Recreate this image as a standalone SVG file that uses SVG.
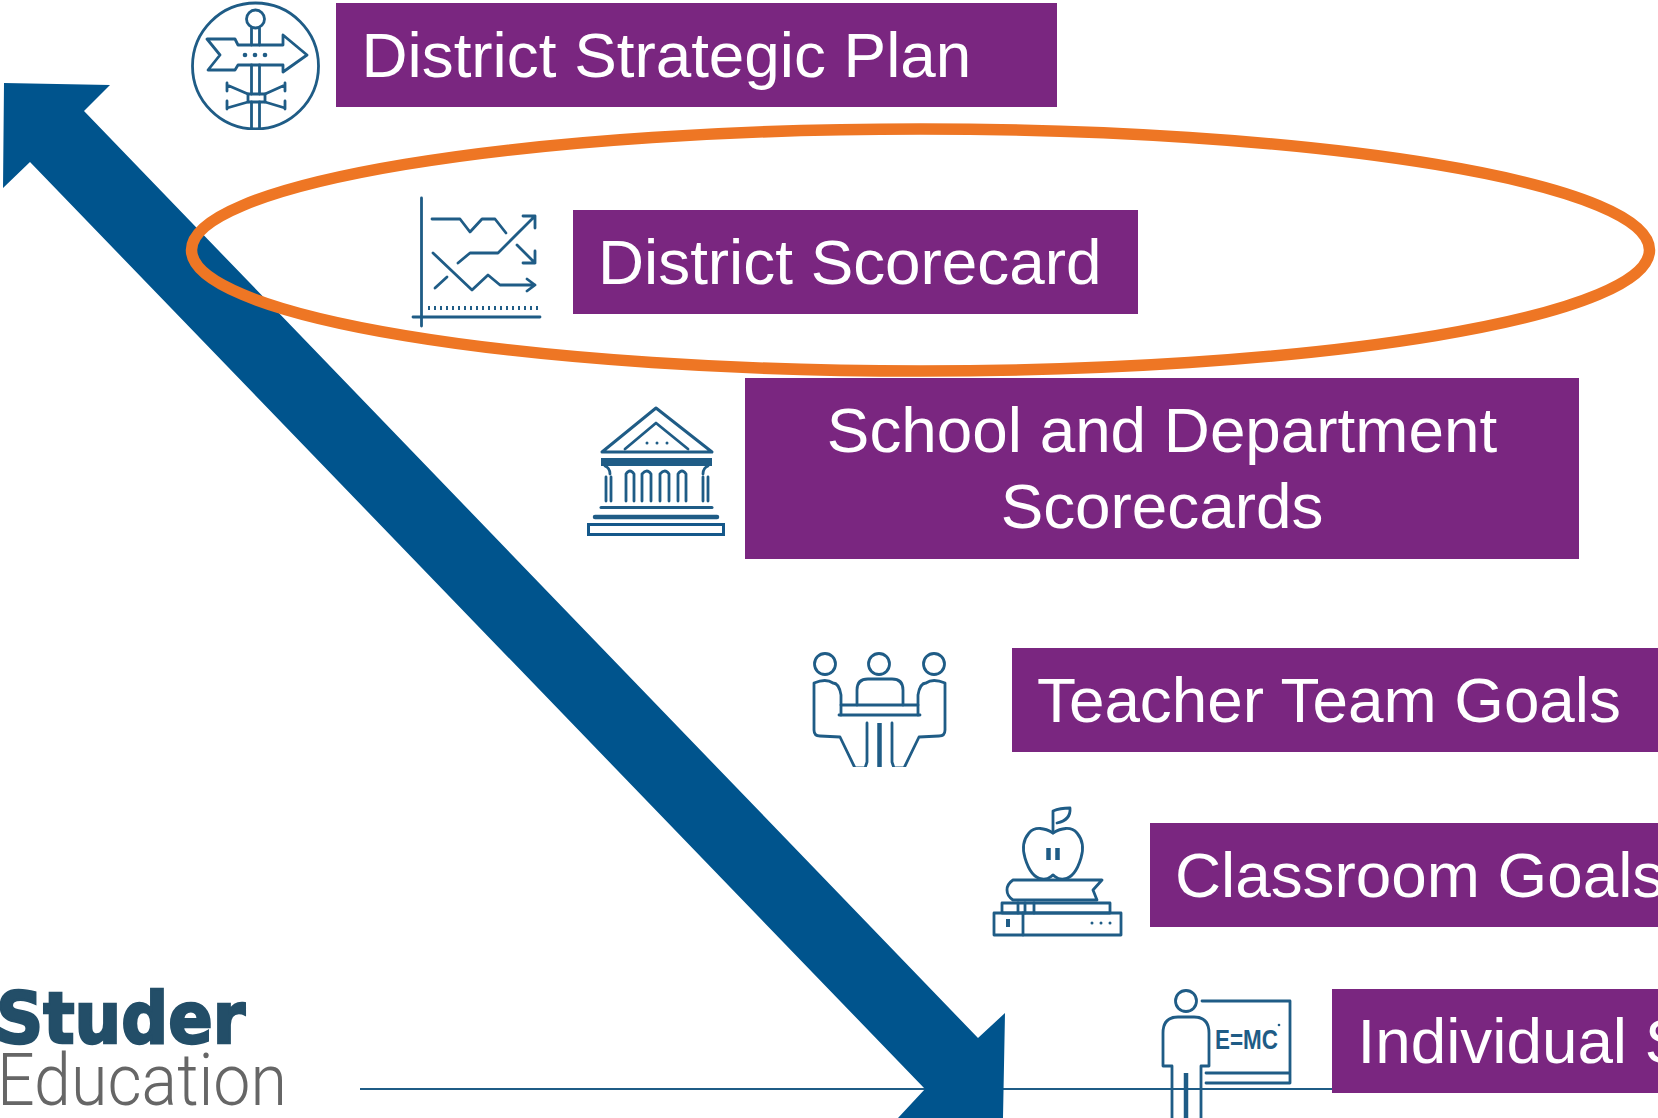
<svg xmlns="http://www.w3.org/2000/svg" width="1658" height="1118" viewBox="0 0 1658 1118">
<style>
.box{fill:#7A2680}
.lbl{font-family:"Liberation Sans",Arial,sans-serif;font-size:63.800px;fill:#fff}
.ic{fill:none;stroke:#1F5C86;stroke-width:2.800;stroke-linejoin:round;stroke-linecap:round}
.thick{stroke-width:4.500}
.dot{fill:#1F5C86;stroke:none}
</style>
<defs>
<clipPath id="c1"><rect x="180" y="0" width="150" height="130"/></clipPath>
<clipPath id="c2"><rect x="800" y="640" width="160" height="127"/></clipPath>
</defs>
<rect width="1658" height="1118" fill="#fff"/>
<g id="connectors">
<line x1="360" y1="1089" x2="1332" y2="1089" stroke="#1F5C86" stroke-width="2"/>
<polygon points="4,83 110,85 84,111 978,1038 1005,1013 1003,1118 898,1118 925,1089 30,162 3,188" fill="#00548D"/>
</g>
<ellipse id="highlight" cx="920.500" cy="250" rx="729" ry="121" fill="none" stroke="#EE7624" stroke-width="11.500"/>

<g id="node-plan">
<rect class="box" x="336" y="3" width="721" height="104"/>
<text class="lbl" x="361.500" y="77">District Strategic Plan</text>
<g clip-path="url(#c1)">
<circle class="ic" cx="255.500" cy="66" r="63"/>
<circle class="ic" cx="255.500" cy="19" r="9"/>
<path class="ic" d="M251.500 28V45M259.500 28V45M251.500 65V94M259.500 65V94M251.500 102V132M259.500 102V132"/>
<path class="ic" d="M207 39H235L238 45H283V35L307 55L283 72V65H238L235 70H208L220 55Z"/>
<circle class="dot" cx="245" cy="55" r="2.300"/><circle class="dot" cx="255" cy="55" r="2.300"/><circle class="dot" cx="265" cy="55" r="2.300"/>
<rect class="ic" x="248" y="94" width="17" height="8"/>
<path class="ic" d="M248 94L227 85M227 83V91M265 94L285 85M285 83V91M248 102L227 108M227 101V109M265 102L285 108M285 101V109"/>
</g>
</g>

<g id="node-district">
<rect class="box" x="573" y="210" width="565" height="104"/>
<text class="lbl" x="598" y="284">District Scorecard</text>
<path class="ic" d="M421.500 198V326M413 317H540"/>
<path d="M428 308H538" fill="none" stroke="#1F5C86" stroke-dasharray="2 4" stroke-width="4"/>
<path class="ic" d="M432 219H460L470 232L482 219H495L506 233"/>
<path class="ic" d="M458 263L470 253H498L535 216M523 216H535V228"/>
<path class="ic" d="M517 245L535 263M535 251V263H523"/>
<path class="ic" d="M433 253L472 290L488 275L500 285H535M527 279L535 285L527 291"/>
<path class="ic" d="M435 288L447 277"/>
</g>

<g id="node-school">
<rect class="box" x="745" y="378" width="834" height="181"/>
<text class="lbl" x="1162" y="452" text-anchor="middle">School and Department</text>
<text class="lbl" x="1162" y="528" text-anchor="middle">Scorecards</text>
<path class="ic" d="M602 452L656 408L712 452Z" style="stroke-width:3"/>
<path class="ic" d="M625 449L656 423L688 449"/>
<circle class="dot" cx="647" cy="443" r="1.500"/><circle class="dot" cx="657" cy="443" r="1.500"/><circle class="dot" cx="667" cy="443" r="1.500"/>
<path d="M601 458H712V466H601Z" fill="#1F5C86"/>
<path class="ic" d="M605 466Q610 468 610 474M708 466Q703 468 703 474"/>
<path class="ic" d="M606 477V501M611 477V501M626 501V474Q630 468 634 474V501M642 501V474Q647 468 651 474V501M660 501V474Q665 468 669 474V501M678 501V474Q682 468 686 474V501M703 477V501M708 477V501"/>
<path class="ic" d="M601 507.500H712" style="stroke-width:3"/>
<path class="ic thick" d="M595 517H717"/>
<rect x="588.500" y="524.500" width="135" height="10" fill="none" stroke="#15588A" stroke-width="3"/>
</g>

<g id="node-team">
<rect class="box" x="1012" y="648" width="646" height="104"/>
<text class="lbl" x="1037" y="722">Teacher Team Goals</text>
<circle class="ic" cx="825" cy="664" r="10.500"/><circle class="ic" cx="879" cy="664" r="10.500"/><circle class="ic" cx="934" cy="664" r="10.500"/>
<g clip-path="url(#c2)">
<path class="ic" d="M841 715V695Q839 683 833 683Q826 678 814 683V730Q814 736 820 736L840 737L855 768H865L867 762V723"/>
<path class="ic" d="M918 715V695Q920 683 926 683Q933 678 945 683V730Q945 736 939 736L919 737L904 768H894L892 762V723"/>
<path class="ic" d="M857 705V690Q857 679 868 679H892Q903 679 903 690V705"/>
<path class="ic" d="M841 705H918M839 715H920"/>
<path class="ic thick" d="M879.500 723V768" style="stroke-linecap:butt"/>
</g>
</g>

<g id="node-classroom">
<rect class="box" x="1150" y="823" width="508" height="104"/>
<text class="lbl" x="1175" y="897">Classroom Goals</text>
<path class="ic" d="M1053 833C1045 828 1035 826 1029 833C1023 840 1022 848 1025 858C1028 868 1033 878 1042 879C1048 880 1050 877 1053 875C1056 877 1058 880 1064 879C1073 878 1078 868 1081 858C1084 848 1083 840 1077 833C1071 826 1061 828 1053 833Z"/>
<path class="ic" d="M1053 833V811Q1060 808 1070 808Q1071 820 1057 823"/>
<path class="ic thick" d="M1048.500 848V860M1057.500 848V860" style="stroke-linecap:butt"/>
<path class="ic" d="M1102 880H1013Q1007 884 1007 890Q1007 896 1013 900H1097L1093 890Z"/>
<rect class="ic" x="1002" y="903" width="108" height="10"/>
<path class="ic" d="M1018 903V913M1025 903V913M1034 903V913"/>
<rect class="ic" x="994" y="913" width="127" height="22"/>
<path class="ic" d="M1023 913V935"/>
<rect class="dot" x="1006" y="919" width="4" height="8"/>
<circle class="dot" cx="1092" cy="923" r="1.500"/><circle class="dot" cx="1101" cy="923" r="1.500"/><circle class="dot" cx="1110" cy="923" r="1.500"/>
</g>

<g id="node-individual">
<rect class="box" x="1332" y="989" width="326" height="104"/>
<text class="lbl" x="1357.500" y="1063">Individual S</text>
<circle class="ic" cx="1186" cy="1001" r="10.500"/>
<path class="ic" d="M1202 1001H1290V1083H1206M1206 1073H1290"/>
<path class="ic" d="M1172 1118V1066H1163V1033Q1163 1017 1178 1017H1194Q1209 1017 1209 1033V1066H1201V1118"/>
<path class="ic thick" d="M1186 1073V1118" style="stroke-linecap:butt"/>
<text x="1215" y="1049" font-family="'Liberation Sans',Arial,sans-serif" font-size="27" font-weight="700" fill="#1F5C86" textLength="63" lengthAdjust="spacingAndGlyphs">E=MC</text>
<circle class="dot" cx="1279" cy="1025" r="1.300"/>
</g>

<g id="logo">
<text x="-4" y="1043" font-family="'DejaVu Sans',sans-serif" font-size="72" font-weight="700" fill="#234E68" stroke="#234E68" stroke-width="2.500" textLength="249" lengthAdjust="spacingAndGlyphs">Studer</text>
<text x="-3" y="1105" font-family="Roboto,'Liberation Sans',sans-serif" font-size="73" font-weight="300" fill="#666" textLength="290" lengthAdjust="spacingAndGlyphs">Education</text>
</g>
</svg>
